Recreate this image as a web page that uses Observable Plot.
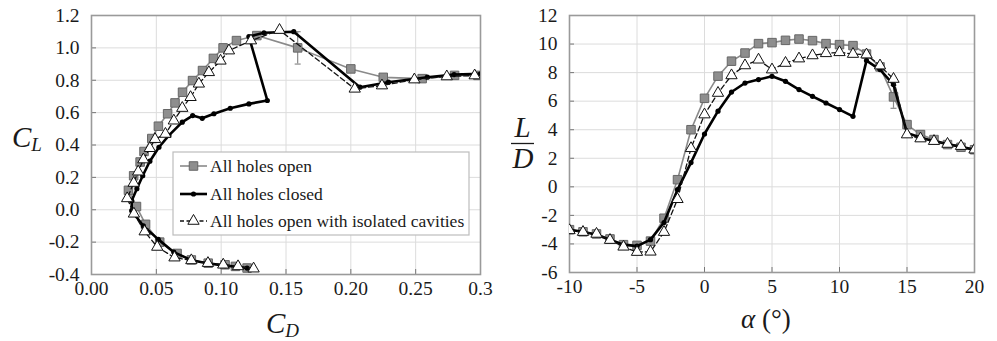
<!DOCTYPE html>
<html><head><meta charset="utf-8">
<script src="https://cdn.jsdelivr.net/npm/d3@7"></script>
<script src="https://cdn.jsdelivr.net/npm/@observablehq/plot@0.6"></script>
<style>
body{margin:0;background:#fff;}
#wrap{position:relative;width:997px;height:341px;overflow:hidden;}
#wrap svg{position:absolute;top:0;}
#wrap svg, #wrap svg text{font-family:"Liberation Serif","Times New Roman",serif !important;}
</style></head><body><div id="wrap"></div>
<script>
// Angle of attack (deg)
const alpha = [-10,-9,-8,-7,-6,-5,-4,-3,-2,-1,0,1,2,3,4,5,6,7,8,9,10,11,12,13,14,15,16,17,18,19,20];

// All holes open
const openCL = [-0.36,-0.35,-0.34,-0.33,-0.31,-0.27,-0.20,-0.09,0.02,0.12,0.21,0.295,0.36,0.44,0.516,0.593,0.66,0.726,0.798,0.86,0.935,1.0,1.045,1.076,1.0,0.87,0.818,0.81,0.83,0.83,0.83];
const openCD = [0.12,0.111,0.103,0.09,0.077,0.066,0.0526,0.0417,0.0347,0.0285,0.0325,0.0375,0.0405,0.0465,0.0516,0.0587,0.0644,0.0702,0.0779,0.0856,0.094,0.1015,0.1118,0.1275,0.159,0.2,0.225,0.255,0.28,0.298,0.318];
const openLD = [-3.0,-3.15,-3.3,-3.65,-4.05,-4.1,-3.8,-2.2,0.5,4.0,6.2,7.75,8.8,9.37,10.03,10.1,10.26,10.35,10.24,10.03,9.96,9.89,9.3,8.4,6.3,4.36,3.66,3.31,2.96,2.77,2.6];

// All holes closed
const closedCL = [-0.36,-0.352,-0.345,-0.33,-0.31,-0.262,-0.183,-0.1,-0.006,0.055,0.13,0.21,0.30,0.386,0.459,0.541,0.582,0.565,0.593,0.627,0.654,0.675,1.07,1.093,1.1,0.757,0.788,0.819,0.835,0.84,0.84];
const closedCD = [0.12,0.112,0.103,0.089,0.0765,0.0635,0.0515,0.04,0.031,0.031,0.035,0.0395,0.045,0.052,0.0597,0.07,0.078,0.0854,0.0944,0.107,0.1214,0.1356,0.1214,0.133,0.156,0.207,0.229,0.259,0.2796,0.3,0.323];
const closedLD = [-3.0,-3.15,-3.35,-3.7,-4.05,-4.15,-3.7,-2.5,-0.2,1.7,3.7,5.3,6.64,7.27,7.51,7.74,7.39,6.81,6.34,5.87,5.41,4.94,8.84,8.21,7.16,3.78,3.45,3.2,3.0,2.8,2.6];

// All holes open with isolated cavities
const isoCL = [-0.364,-0.35,-0.34,-0.33,-0.313,-0.296,-0.23,-0.135,-0.025,0.07,0.165,0.235,0.31,0.38,0.436,0.468,0.55,0.628,0.695,0.778,0.849,0.92,0.983,1.045,1.11,0.747,0.767,0.804,0.823,0.829,0.83];
const isoCD = [0.125,0.113,0.1016,0.0898,0.077,0.064,0.0507,0.041,0.0327,0.0275,0.0325,0.036,0.040,0.045,0.049,0.057,0.0635,0.07,0.0764,0.0828,0.0905,0.0995,0.106,0.123,0.145,0.203,0.224,0.249,0.274,0.2955,0.318];
const isoLD = [-3.05,-3.17,-3.3,-3.73,-4.2,-4.57,-4.55,-3.17,-0.87,2.7,5.06,6.57,7.8,8.5,8.9,8.21,8.67,8.98,9.2,9.35,9.42,9.3,9.26,8.49,7.55,3.66,3.38,3.2,3.0,2.85,2.6];

// Error bars (All holes open, alpha = 14)
const errAlpha = [14];
const errCD = [0.159];
const errCLlow = [0.9], errCLhigh = [1.1];
const errLDlow = [5.5], errLDhigh = [7.1];

// Ticks
const cdTicks = [0,0.05,0.10,0.15,0.20,0.25,0.30];
const cdLabels = ["0.00","0.05","0.10","0.15","0.20","0.25","0.3"];
const clTicks = [-0.4,-0.2,0,0.2,0.4,0.6,0.8,1.0,1.2];
const clLabels = ["-0.4","-0.2","0.0","0.2","0.4","0.6","0.8","1.0","1.2"];
const aTicks = [-10,-5,0,5,10,15,20];
const aLabels = ["-10","-5","0","5","10","15","20"];
const ldTicks = [-6,-4,-2,0,2,4,6,8,10,12];
const ldLabels = ["-6","-4","-2","0","2","4","6","8","10","12"];

const seriesNames = ["All holes open","All holes closed","All holes open with isolated cavities"];

const rows = (cl, cd, ld) => alpha.map((a,i)=>({a, cl:cl[i], cd:cd[i], ld:ld[i]}));
const openRows = rows(openCL, openCD, openLD);
const closedRows = rows(closedCL, closedCD, closedLD);
const isoRows = rows(isoCL, isoCD, isoLD);
const errRows = errAlpha.map((a,i)=>({a, cd:errCD[i], cl1:errCLlow[i], cl2:errCLhigh[i], ld1:errLDlow[i], ld2:errLDhigh[i]}));

const FONT = '"Liberation Serif", "Times New Roman", serif';
const capSym = {draw(ctx){ ctx.moveTo(-3,0); ctx.lineTo(3,0); }};
const openStyle = {fill:"#8e8e8e", stroke:"#666", strokeWidth:1, symbol:"square", r:4.8};
const isoStyle = {fill:"#fff", stroke:"#111", strokeWidth:1, symbol:"triangle", r:4.2};

function panel({width, ml, mr, mb, xDomain, yDomain, xTicks, xLabels, yTicks, yLabels, xk, yk, e1, e2, ex}) {
  const H = 341, mt = 15;
  const pw = width - ml - mr, ph = H - mt - mb;
  return Plot.plot({
    width, height: H, marginLeft: ml, marginRight: mr, marginTop: mt, marginBottom: mb,
    style: {fontFamily: FONT, fontSize: "16px", color: "#1a1a1a", background: "transparent"},
    x: {domain: xDomain}, y: {domain: yDomain},
    marks: [
      Plot.gridX(xTicks, {stroke:"#dcdcdc", strokeOpacity:1}),
      Plot.gridY(yTicks, {stroke:"#dcdcdc", strokeOpacity:1}),
      Plot.tickX(xTicks, {x: d=>d, insetTop: ph-5, stroke:"#777"}),
      Plot.tickY(yTicks, {y: d=>d, insetRight: pw-5, stroke:"#777"}),
      Plot.frame({stroke:"#9a9a9a", strokeWidth:1.6}),
      Plot.axisX(xTicks, {tickSize:0, tickPadding:7, tickFormat: d=>xLabels[xTicks.indexOf(d)], label:null, fontSize:19.5}),
      Plot.axisY(yTicks, {tickSize:0, tickPadding:12, tickFormat: d=>yLabels[yTicks.indexOf(d)], label:null, fontSize:19.5}),
      Plot.line(openRows, {x:xk, y:yk, stroke:"#8a8a8a", strokeWidth:1.6, clip:true}),
      Plot.ruleX(errRows, {x:ex, y1:e1, y2:e2, stroke:"#8a8a8a", strokeWidth:1.2}),
      Plot.dot(errRows, {x:ex, y:e1, symbol:capSym, stroke:"#8a8a8a", strokeWidth:1.2}),
      Plot.dot(errRows, {x:ex, y:e2, symbol:capSym, stroke:"#8a8a8a", strokeWidth:1.2}),
      Plot.dot(openRows, {x:xk, y:yk, ...openStyle, clip:true}),
      Plot.line(closedRows, {x:xk, y:yk, stroke:"#000", strokeWidth:2.6, clip:true}),
      Plot.dot(closedRows, {x:xk, y:yk, r:2.6, fill:"#000", clip:true}),
      Plot.line(isoRows, {x:xk, y:yk, stroke:"#111", strokeWidth:1.3, strokeDasharray:"5,3", clip:true}),
      Plot.dot(isoRows, {x:xk, y:yk, ...isoStyle, clip:true})
    ]
  });
}

const left = panel({width:500, ml:91, mr:20, mb:67, xDomain:[0,0.3], yDomain:[-0.4,1.2],
  xTicks:cdTicks, xLabels:cdLabels, yTicks:clTicks, yLabels:clLabels, xk:"cd", yk:"cl", e1:"cl1", e2:"cl2", ex:"cd"});
const right = panel({width:497, ml:69, mr:23, mb:69, xDomain:[-10,20], yDomain:[-6,12],
  xTicks:aTicks, xLabels:aLabels, yTicks:ldTicks, yLabels:ldLabels, xk:"a", yk:"ld", e1:"ld1", e2:"ld2", ex:"a"});

const wrap = document.getElementById("wrap");
left.style.left = "0px"; right.style.left = "500px";
wrap.appendChild(left); wrap.appendChild(right);

// Axis titles
const L = d3.select(left), R = d3.select(right);
function sub(sel, x, y, main, subs, size, subSize) {
  const t = sel.append("text").attr("x", x).attr("y", y).attr("text-anchor","start").attr("fill", "#1a1a1a");
  t.append("tspan").attr("font-style","italic").attr("font-size", size).text(main);
  t.append("tspan").attr("font-style","italic").attr("font-size", subSize).attr("dy", 4).text(subs);
}
sub(L, 12, 147, "C", "L", 29, 19);
sub(L, 266, 333, "C", "D", 29, 19);
R.append("text").attr("x", 22.5).attr("y", 137).attr("text-anchor","middle")
  .attr("font-style","italic").attr("font-size",29).attr("fill","#1a1a1a").text("L");
R.append("line").attr("x1",11).attr("x2",34).attr("y1",143.5).attr("y2",143.5).attr("stroke","#1a1a1a").attr("stroke-width",1.3);
R.append("text").attr("x", 23).attr("y", 168).attr("text-anchor","middle")
  .attr("font-style","italic").attr("font-size",29).attr("fill","#1a1a1a").text("D");
const at = R.append("text").attr("x", 241).attr("y", 328).attr("text-anchor","start").attr("font-size",27).attr("fill","#1a1a1a");
at.append("tspan").attr("font-style","italic").text("α");
at.append("tspan").text(" (°)");

// Legend (inside left panel)
const lg = L.append("g");
lg.append("rect").attr("x",173).attr("y",152).attr("width",296).attr("height",83).attr("fill","#fff").attr("stroke","#bdbdbd").attr("stroke-width",1.2);
const ys = [166, 194, 221];
lg.append("line").attr("x1",180).attr("x2",207).attr("y1",ys[0]).attr("y2",ys[0]).attr("stroke","#8a8a8a").attr("stroke-width",1.6);
lg.append("path").attr("d", d3.symbol(d3.symbolSquare, Math.PI*openStyle.r*openStyle.r)()).attr("transform",`translate(193.5,${ys[0]})`).attr("fill",openStyle.fill).attr("stroke",openStyle.stroke);
lg.append("line").attr("x1",180).attr("x2",207).attr("y1",ys[1]).attr("y2",ys[1]).attr("stroke","#000").attr("stroke-width",2.6);
lg.append("circle").attr("cx",193.5).attr("cy",ys[1]).attr("r",2.6).attr("fill","#000");
lg.append("line").attr("x1",180).attr("x2",207).attr("y1",ys[2]).attr("y2",ys[2]).attr("stroke","#111").attr("stroke-width",1.3).attr("stroke-dasharray","4,2.5");
lg.append("path").attr("d", d3.symbol(d3.symbolTriangle, Math.PI*isoStyle.r*isoStyle.r)()).attr("transform",`translate(193.5,${ys[2]})`).attr("fill","#fff").attr("stroke","#111");
seriesNames.forEach((n,i)=>{
  lg.append("text").attr("x",210).attr("y",ys[i]).attr("dy","0.35em").attr("text-anchor","start").attr("font-size",17.5).attr("fill","#1a1a1a").text(n);
});
</script></body></html>
